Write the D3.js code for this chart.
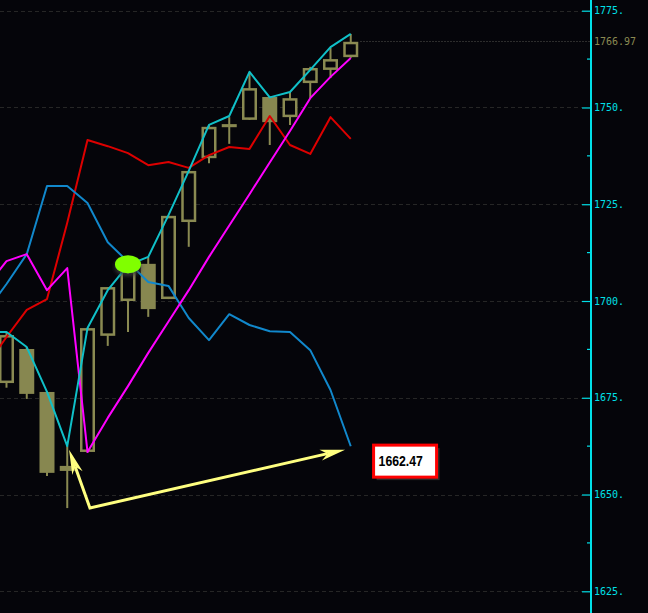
<!DOCTYPE html>
<html>
<head>
<meta charset="utf-8">
<script src="https://cdn.jsdelivr.net/npm/d3@7/dist/d3.min.js"></script>
<style>
  html, body { margin: 0; padding: 0; background: #05050a; }
  svg { display: block; }
</style>
</head>
<body>
<svg id="chart" width="648" height="613"></svg>
<script>
// ---------------- data ----------------
// candles (bar index 0..17)
const barIndex    = d3.range(0, 18);
const candleOpen  = [1678.8, 1687.6, 1676.5, 1657.4, 1661.0, 1691.0, 1700.0, 1709.6, 1700.5, 1720.4, 1736.9, 1745.7, 1746.8, 1752.7, 1747.5, 1756.3, 1759.7, 1763.0];
const candleHigh  = [1692.0, 1688.1, 1676.6, 1662.5, 1693.0, 1703.6, 1709.5, 1711.4, 1722.0, 1733.6, 1745.5, 1747.5, 1759.2, 1752.9, 1754.0, 1760.5, 1765.4, 1769.0];
const candleLow   = [1677.6, 1674.7, 1654.8, 1646.5, 1660.8, 1688.4, 1692.0, 1695.9, 1700.5, 1714.0, 1735.6, 1740.6, 1746.8, 1740.3, 1745.5, 1752.4, 1757.6, 1762.8];
const candleClose = [1691.2, 1676.0, 1655.6, 1656.1, 1693.0, 1703.6, 1709.0, 1697.9, 1722.0, 1733.6, 1745.0, 1744.9, 1755.0, 1746.2, 1752.4, 1760.2, 1762.5, 1766.97];

// indicator lines (index -1..17, first point is one bar before the first visible candle)
const lineIndex  = d3.range(-1, 18);
const cyanLine   = [1692.0, 1692.0, 1688.1, 1676.5, 1662.5, 1693.0, 1702.8, 1709.3, 1711.4, 1722.2, 1733.6, 1745.5, 1747.8, 1759.2, 1752.6, 1754.0, 1759.7, 1765.6, 1769.0];
const magentaLine= [1703.6, 1710.3, 1712.1, 1702.8, 1708.5, 1661.0, 1669.8, 1678.0, 1686.6, 1694.7, 1702.8, 1711.4, 1719.5, 1727.6, 1735.8, 1743.9, 1752.4, 1757.9, 1762.8];
const redLine    = [1683.2, 1690.7, 1697.7, 1700.5, 1720.2, 1741.6, 1740.0, 1738.2, 1735.1, 1735.9, 1734.4, 1737.7, 1739.8, 1739.3, 1747.8, 1740.3, 1738.0, 1747.5, 1741.9];
const blueLine   = [1697.2, 1704.4, 1712.1, 1729.7, 1729.7, 1725.3, 1715.2, 1710.1, 1704.9, 1703.9, 1695.6, 1689.9, 1696.6, 1693.8, 1692.2, 1692.0, 1687.3, 1677.0, 1662.47];

// axis
const yTicks      = [1625, 1650, 1675, 1700, 1725, 1750, 1775];
const yMinorTicks = [1637.5, 1662.5, 1687.5, 1712.5, 1737.5, 1762.5];
const lastPrice   = 1766.97;

// annotations
const markerBar   = 6;       const markerValue = 1709.5;       // green ellipse
const arrowVertex = [4.12, 1646.5];
const arrowTipA   = [3.09, 1661.6];
const arrowTipB   = [16.72, 1661.6];
const calloutText = "1662.47";

// ---------------- drawing ----------------
const W = 648, H = 613;
const bg = "#05050a";
const olive = "#8a8a52";
const axisX = 591;

const svg = d3.select("#chart");
svg.append("rect").attr("width", W).attr("height", H).attr("fill", bg);

const x = d3.scaleLinear().domain([0, 17]).range([6.5, 350.75]);
const y = d3.scaleLinear().domain([1625, 1775]).range([591.3, 10.7]);

const defs = svg.append("defs");
defs.append("clipPath").attr("id", "plot")
  .append("rect").attr("x", 0).attr("y", 0).attr("width", axisX - 1).attr("height", H);
const sh = defs.append("filter").attr("id", "shadow").attr("x", "-50%").attr("y", "-50%").attr("width", "200%").attr("height", "200%");
sh.append("feDropShadow").attr("dx", 0).attr("dy", 3).attr("stdDeviation", 2).attr("flood-color", "#3a3a3a").attr("flood-opacity", 0.9);

// grid
const grid = svg.append("g");
grid.selectAll("line").data(yTicks).join("line")
  .attr("x1", 0).attr("x2", axisX - 9)
  .attr("y1", d => Math.round(y(d)) + 0.5).attr("y2", d => Math.round(y(d)) + 0.5)
  .attr("stroke", "#262626").attr("stroke-width", 1).attr("stroke-dasharray", "4,3");

// last price line
svg.append("line")
  .attr("x1", 360).attr("x2", axisX - 1)
  .attr("y1", Math.round(y(lastPrice)) - 0.5).attr("y2", Math.round(y(lastPrice)) - 0.5)
  .attr("stroke", "#2c2c2c").attr("stroke-width", 1).attr("stroke-dasharray", "2,1");

const plot = svg.append("g").attr("clip-path", "url(#plot)");

// candles
const candles = barIndex.map((i, k) => ({i, o: candleOpen[k], h: candleHigh[k], l: candleLow[k], c: candleClose[k]}));
const cg = plot.append("g");
cg.selectAll("line.wick").data(candles).join("line").attr("class", "wick")
  .attr("x1", d => x(d.i)).attr("x2", d => x(d.i))
  .attr("y1", d => y(d.h)).attr("y2", d => y(d.l))
  .attr("stroke", olive).attr("stroke-width", 2);
// filled (down) candles
cg.selectAll("rect.down").data(candles.filter(d => d.c < d.o)).join("rect").attr("class", "down")
  .attr("x", d => x(d.i) - 7.5).attr("width", 15)
  .attr("y", d => y(d.o)).attr("height", d => Math.max(3, y(d.c) - y(d.o)))
  .attr("fill", "#878750");
// hollow (up) candles
cg.selectAll("rect.up").data(candles.filter(d => d.c >= d.o)).join("rect").attr("class", "up")
  .attr("x", d => x(d.i) - 6.25).attr("width", 12.5)
  .attr("y", d => y(d.c) + 1.25).attr("height", d => Math.max(1, y(d.o) - y(d.c) - 2.5))
  .attr("fill", bg).attr("stroke", olive).attr("stroke-width", 2.5);

// lines
const lineGen = d3.line().x(d => x(d[0])).y(d => y(d[1]));
function drawLine(vals, color) {
  plot.append("path")
    .datum(lineIndex.map((i, k) => [i, vals[k]]))
    .attr("d", lineGen)
    .attr("fill", "none").attr("stroke", color).attr("stroke-width", 2)
    .attr("stroke-linejoin", "round");
}
drawLine(redLine, "#dd0000");
drawLine(blueLine, "#1188cc");
drawLine(magentaLine, "#ff00ff");
drawLine(cyanLine, "#10c0c8");

// green ellipse
svg.append("ellipse")
  .attr("cx", x(markerBar)).attr("cy", y(markerValue))
  .attr("rx", 13).attr("ry", 9)
  .attr("fill", "#80ff00").attr("filter", "url(#shadow)");

// arrows
const ay = "#ffff80";
const V = [x(arrowVertex[0]), y(arrowVertex[1])];
function head(tip) {
  const T = [x(tip[0]), y(tip[1])];
  const dx = T[0] - V[0], dy = T[1] - V[1], len = Math.hypot(dx, dy);
  const ux = dx / len, uy = dy / len, px = -uy, py = ux;
  const L = 25, hw = 5.5, notch = 18;
  const back = [T[0] - ux * L, T[1] - uy * L];
  const n = [T[0] - ux * notch, T[1] - uy * notch];
  return {T, n, pts: [T, [back[0] + px * hw, back[1] + py * hw], n, [back[0] - px * hw, back[1] - py * hw]]};
}
const hA = head(arrowTipA), hB = head(arrowTipB);
svg.append("path")
  .attr("d", d3.line()([hA.n, V, hB.n]))
  .attr("fill", "none").attr("stroke", ay).attr("stroke-width", 3).attr("stroke-linejoin", "miter");
[hA, hB].forEach(h => {
  svg.append("path").attr("d", d3.line()(h.pts) + "Z").attr("fill", ay);
});

// callout box
const bx = hB.T[0] + 28.5, byc = hB.T[1] + 11.5;
svg.append("rect").attr("x", bx + 3).attr("y", byc - 16 + 3).attr("width", 63).attr("height", 32).attr("fill", "#2a2a2a");
svg.append("rect").attr("x", bx).attr("y", byc - 16).attr("width", 63).attr("height", 32)
  .attr("fill", "#ffffff").attr("stroke", "#ff0000").attr("stroke-width", 3);
svg.append("text")
  .attr("transform", `translate(${bx + 5},${byc + 5}) scale(0.79,1)`)
  .attr("font-family", "'Liberation Sans', Arial, sans-serif")
  .attr("font-weight", "bold").attr("font-size", 15.5).attr("fill", "#000")
  .text(calloutText);

// right axis
const axisG = svg.append("g").attr("transform", `translate(${axisX},0)`);
axisG.call(d3.axisRight(y).tickValues(yTicks).tickSizeInner(-9).tickSizeOuter(0).tickPadding(3).tickFormat(d => d + "."));
axisG.select(".domain").remove();
axisG.selectAll(".tick line").attr("stroke", "#00e0e8").attr("stroke-width", 1.2);
axisG.selectAll(".tick text").attr("fill", "#00e0e8")
  .attr("font-family", "'DejaVu Sans Mono', monospace").attr("font-size", 10);
axisG.append("line").attr("x1", 0).attr("x2", 0).attr("y1", 0).attr("y2", H)
  .attr("stroke", "#00e0e8").attr("stroke-width", 2);
axisG.selectAll("line.minor").data(yMinorTicks).join("line").attr("class", "minor")
  .attr("x1", -4).attr("x2", 0).attr("y1", d => y(d)).attr("y2", d => y(d))
  .attr("stroke", "#00e0e8").attr("stroke-width", 1.2);
axisG.append("text").attr("x", 3).attr("y", y(lastPrice)).attr("dy", "0.32em")
  .attr("fill", "#8a8a52").attr("font-family", "'DejaVu Sans Mono', monospace").attr("font-size", 10)
  .text(lastPrice.toFixed(2));
</script>
</body>
</html>
